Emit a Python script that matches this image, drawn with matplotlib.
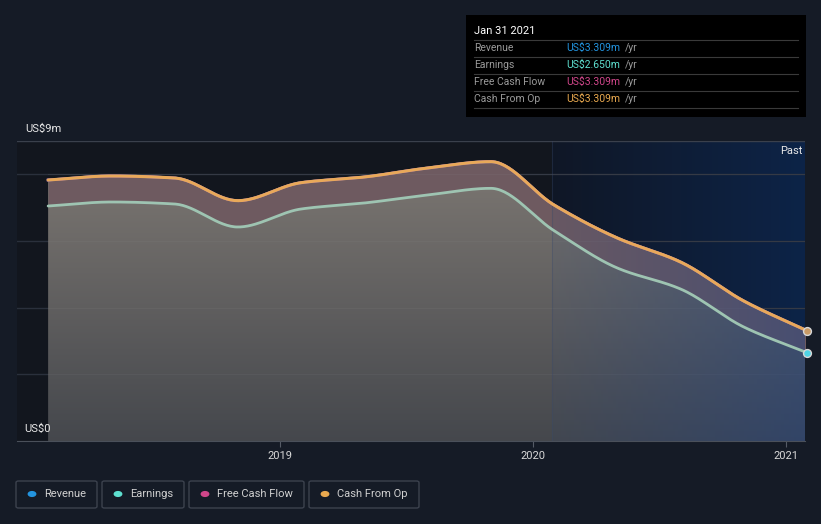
import numpy as np
import matplotlib
matplotlib.use("Agg")
from matplotlib import pyplot as plt
from matplotlib.patches import Polygon, FancyBboxPatch, Rectangle

plt.rcParams["font.family"] = ["Roboto", "DejaVu Sans"]

# quarterly points, Jan 31 2018 -> Jan 31 2021 (decimal years)
dates = [2018.083 + 0.25 * i for i in range(13)]
revenue = [7.83, 7.95, 7.89, 7.21, 7.75, 7.92, 8.19, 8.38, 7.08, 6.09, 5.37, 4.20, 3.309]
earnings = [7.05, 7.17, 7.11, 6.42, 6.96, 7.14, 7.38, 7.58, 6.31, 5.19, 4.56, 3.42, 2.650]
free_cash_flow = revenue
cash_from_op = revenue

past_start = 2020.075
x_ticks = [2019, 2020, 2021]
y_ticks = [0, 2, 4, 6, 8]

BG = "#151b26"


def smooth(x, y, n=400):
    # monotone cubic curve through the points, only for drawing
    x = np.asarray(x, float)
    y = np.asarray(y, float)
    h = np.diff(x)
    d = np.diff(y) / h
    m = np.zeros_like(y)
    m[0], m[-1] = d[0], d[-1]
    for k in range(1, len(y) - 1):
        if d[k - 1] * d[k] > 0:
            w1 = 2 * h[k] + h[k - 1]
            w2 = h[k] + 2 * h[k - 1]
            m[k] = (w1 + w2) / (w1 / d[k - 1] + w2 / d[k])
    xs = np.linspace(x[0], x[-1], n)
    idx = np.clip(np.searchsorted(x, xs) - 1, 0, len(x) - 2)
    t = (xs - x[idx]) / h[idx]
    h00 = 2 * t**3 - 3 * t**2 + 1
    h10 = t**3 - 2 * t**2 + t
    h01 = -2 * t**3 + 3 * t**2
    h11 = t**3 - t**2
    ys = h00 * y[idx] + h10 * h[idx] * m[idx] + h01 * y[idx + 1] + h11 * h[idx] * m[idx + 1]
    return xs, ys


fig = plt.figure(figsize=(8.21, 5.24), dpi=100, facecolor=BG)
ax = fig.add_axes([17 / 821, 83 / 524, 788 / 821, 300 / 524])
ax.set_facecolor("#12161e")
x0, x1 = 2017.96, 2021.075
ax.set_xlim(x0, x1)
ax.set_ylim(0, 9)

# past region background
pb = np.zeros((2, 256, 4))
for i in range(256):
    f = i / 255
    pb[:, i, :3] = np.array([0.06, 0.09, 0.15]) * (1 - f) + np.array([0.05, 0.14, 0.28]) * f
    pb[:, i, 3] = 1.0
ax.imshow(pb, extent=[past_start, x1, 0, 9], origin="lower", aspect="auto", zorder=0.5)

for y in y_ticks[1:]:
    ax.axhline(y, color="#2a303c", lw=1, zorder=1)
ax.axhline(9, color="#3a404c", lw=1, zorder=1)

xs, ys_rev = smooth(dates, cash_from_op)
_, ys_earn = smooth(dates, earnings)

# gradient under the revenue curve
grad = np.zeros((256, 2, 4))
top = np.array([0.49, 0.47, 0.45])
bot = np.array([0.27, 0.28, 0.30])
for i in range(256):
    f = i / 255
    grad[i, :, :3] = bot * (1 - f) + top * f
    grad[i, :, 3] = 1.0
im = ax.imshow(grad, extent=[xs[0], xs[-1], 0, 8.5], origin="lower", aspect="auto", zorder=2)
poly = Polygon(np.column_stack([np.r_[xs, xs[::-1]], np.r_[ys_rev, np.zeros_like(xs)]]),
               closed=True, transform=ax.transData, facecolor="none", edgecolor="none")
ax.add_patch(poly)
im.set_clip_path(poly)

# band between earnings and cash from op
ax.fill_between(xs, ys_earn, ys_rev, color="#6e5a60", lw=0, zorder=3)

# faint grid through the fill
for y in y_ticks[1:]:
    ax.plot([xs[0], xs[-1]], [y, y], color="#8a8a8a", lw=0.8, alpha=0.12, zorder=3.5)

# blue tint over the fills in the past region
pg = np.zeros((2, 256, 4))
for i in range(256):
    f = i / 255
    pg[:, i, :3] = np.array([0.12, 0.26, 0.52])
    pg[:, i, 3] = 0.08 + 0.4 * f
tint = ax.imshow(pg, extent=[past_start, x1, 0, 9], origin="lower", aspect="auto", zorder=4)
tint.set_clip_path(poly)
ax.plot([past_start, past_start], [0, 9], color="#3a4a6a", lw=0.8, alpha=0.35, zorder=4)

ax.plot(xs, ys_earn, color="#9ec4b2", lw=2, zorder=5, solid_capstyle="round")
_, ys_fcf = smooth(dates, free_cash_flow)
_, ys_r = smooth(dates, revenue)
ax.plot(xs, ys_r, color="#2394df", lw=2, zorder=5)
ax.plot(xs, ys_fcf, color="#d0468a", lw=2, zorder=5)
ax.plot(xs, ys_rev, color="#e8a95a", lw=2.2, zorder=6, solid_capstyle="round")

ax.scatter([dates[-1]], [cash_from_op[-1]], s=32, color="#c89a66", edgecolor="#d8d8d8", lw=1, zorder=7, clip_on=False)
ax.scatter([dates[-1]], [earnings[-1]], s=32, color="#4fd4e4", edgecolor="#d8d8d8", lw=1, zorder=7, clip_on=False)

ax.set_ylim(0, 9)
ax.set_xlim(x0, x1)
ax.set_xticks(x_ticks)
ax.set_xticklabels([str(t) for t in x_ticks], color="#d8d8d8", fontsize=8)
ax.tick_params(axis="x", length=4, color="#555b66", pad=3)
ax.set_yticks([])
for s in ["top", "left", "right"]:
    ax.spines[s].set_visible(False)
ax.spines["bottom"].set_color("#4a505a")

ax.text(2021.065, 8.7, "Past", color="#e8e8e8", fontsize=8, ha="right", va="center", zorder=8)
fig.text(25 / 821, 1 - 129 / 524, "US$9m", color="#e8e8e8", fontsize=8, va="center")
fig.text(24 / 821, 1 - 429 / 524, "US$0", color="#e8e8e8", fontsize=8, va="center")

# tooltip box
fig.patches.append(Rectangle((466 / 821, 1 - 117 / 524), 340 / 821, 102 / 524,
                             transform=fig.transFigure, facecolor="#000000", edgecolor="none"))
fig.text(474 / 821, 1 - 31 / 524, "Jan 31 2021", color="#ffffff", fontsize=8, va="center")
rows = [("Revenue", revenue[-1], "#2394df"),
        ("Earnings", earnings[-1], "#5ee0d0"),
        ("Free Cash Flow", free_cash_flow[-1], "#d0468a"),
        ("Cash From Op", cash_from_op[-1], "#e9a94f")]
for i, (name, val, col) in enumerate(rows):
    yl = 1 - (40 + 17 * i) / 524
    fig.lines.append(plt.Line2D([474 / 821, 798 / 821], [yl, yl], transform=fig.transFigure,
                                color="#3a3a3a", lw=0.8))
    yt = 1 - (48 + 17 * i) / 524
    fig.text(474 / 821, yt, name, color="#9a9a9a", fontsize=7.5, va="center")
    fig.text(566 / 821, yt, f"US${val:.3f}m", color=col, fontsize=7.5, va="center")
    fig.text(566 / 821 + 0.072, yt, "/yr", color="#9a9a9a", fontsize=7.5, va="center")
yl = 1 - 108 / 524
fig.lines.append(plt.Line2D([474 / 821, 798 / 821], [yl, yl], transform=fig.transFigure,
                            color="#3a3a3a", lw=0.8))

# legend boxes
legend = [("Revenue", "#2394df", 16, 97), ("Earnings", "#5ee0d0", 102, 184),
          ("Free Cash Flow", "#d0468a", 189, 304), ("Cash From Op", "#e9a94f", 309, 419)]
for name, col, a, b in legend:
    fig.patches.append(FancyBboxPatch((a / 821, 1 - 508 / 524), (b - a) / 821, 27 / 524,
                                      boxstyle="round,pad=0,rounding_size=0.003",
                                      transform=fig.transFigure, facecolor="none",
                                      edgecolor="#3c424e", lw=1))
    fig.patches.append(plt.Circle(((a + 16) / 821, 1 - 494 / 524), 0.0045,
                                  transform=fig.transFigure, color=col))
    fig.text((a + 28) / 821, 1 - 494 / 524, name, color="#d0d0d0", fontsize=8, va="center")

fig.savefig("out.png", dpi=100, facecolor=BG)
